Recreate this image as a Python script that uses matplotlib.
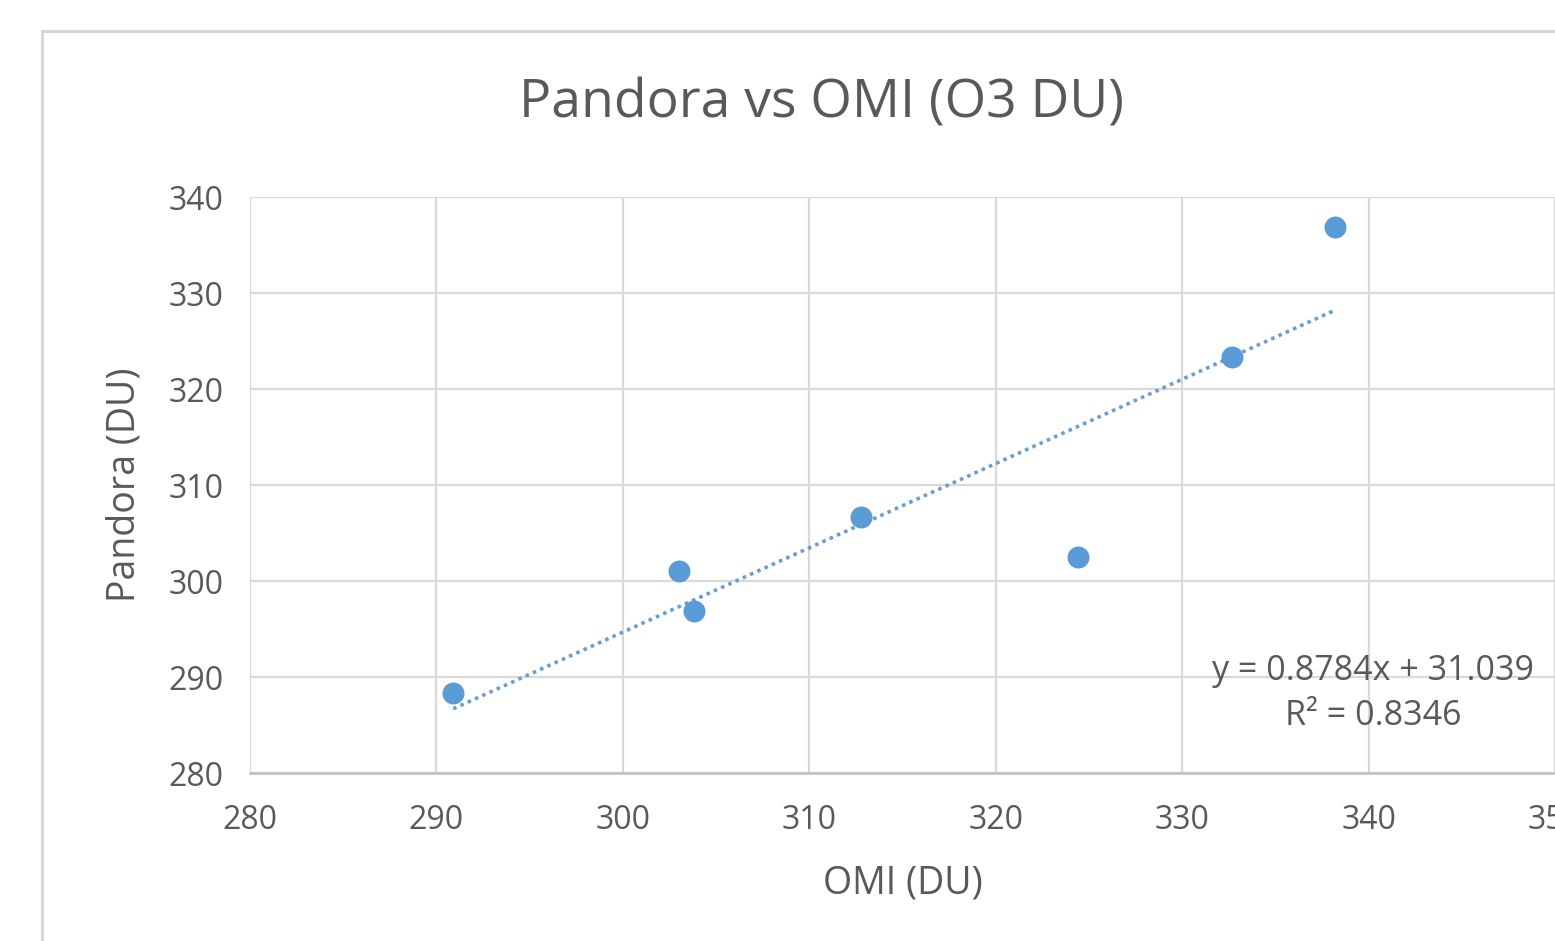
import numpy as np
import matplotlib
matplotlib.use("Agg")
import matplotlib.pyplot as plt
from matplotlib.patches import Rectangle

# OMI vs Pandora total ozone (DU)
omi = [290.9, 303.0, 303.8, 312.8, 324.4, 332.7, 338.2]
pandora = [288.3, 301.0, 296.9, 306.7, 302.5, 323.3, 336.9]

x_ticks = [280, 290, 300, 310, 320, 330, 340, 350]
y_ticks = [280, 290, 300, 310, 320, 330, 340]

blue = "#5b9bd5"
grey_txt = "#595959"
grid_col = "#d9d9d9"

plt.rcParams['font.family'] = ['Open Sans', 'DejaVu Sans']

fig = plt.figure(figsize=(15.55, 9.41), dpi=100)

# chart frame (excel style border)
fig.patches.append(Rectangle((42 / 1555, -0.1), 1.2, (941 - 31) / 941 + 0.1,
                             transform=fig.transFigure, fill=False,
                             edgecolor="#d4d4d4", linewidth=2))

ax = fig.add_axes([250 / 1555, 168 / 941, 1305 / 1555, 576 / 941])

# linear trendline
slope, intercept = np.polyfit(omi, pandora, 1)
xs = np.array([min(omi), max(omi)])
ax.plot(xs, slope * xs + intercept, linestyle=(0, (1, 1.2)), color="#6a9fcf",
        linewidth=2.6, zorder=2)

ax.scatter(omi, pandora, s=250, color=blue, zorder=3, linewidths=0)

ax.set_xlim(280, 350)
ax.set_ylim(280, 340)
ax.set_xticks(x_ticks)
ax.set_yticks(y_ticks)
ax.grid(True, color=grid_col, linewidth=1.6)
ax.set_axisbelow(True)
for s in ax.spines.values():
    s.set_visible(False)
ax.spines['bottom'].set_visible(True)
ax.spines['bottom'].set_color("#bfbfbf")
ax.spines['bottom'].set_linewidth(1.8)
ax.tick_params(length=0, labelsize=23, labelcolor=grey_txt)
ax.tick_params(axis='x', pad=22)
ax.tick_params(axis='y', pad=19)

ax.set_xlabel("OMI (DU)", fontsize=27, color=grey_txt, labelpad=20)
ax.set_ylabel("Pandora (DU)", fontsize=27, color=grey_txt, labelpad=18)

fig.text(822 / 1555, 1 - 104 / 941, "Pandora vs OMI (O3 DU)", fontsize=38.5,
         color=grey_txt, ha="center", va="center")

# equation + R² label
eq_x = (1373 - 250) / 1305
ax.text(eq_x, (941 - 671 - 168) / 576, "y = 0.8784x + 31.039",
        transform=ax.transAxes, fontsize=24.5, color=grey_txt,
        ha="center", va="center")
ax.text(eq_x, (941 - 716 - 168) / 576, "R² = 0.8346",
        transform=ax.transAxes, fontsize=24.5, color=grey_txt,
        ha="center", va="center")

fig.savefig("out.png", dpi=100)
